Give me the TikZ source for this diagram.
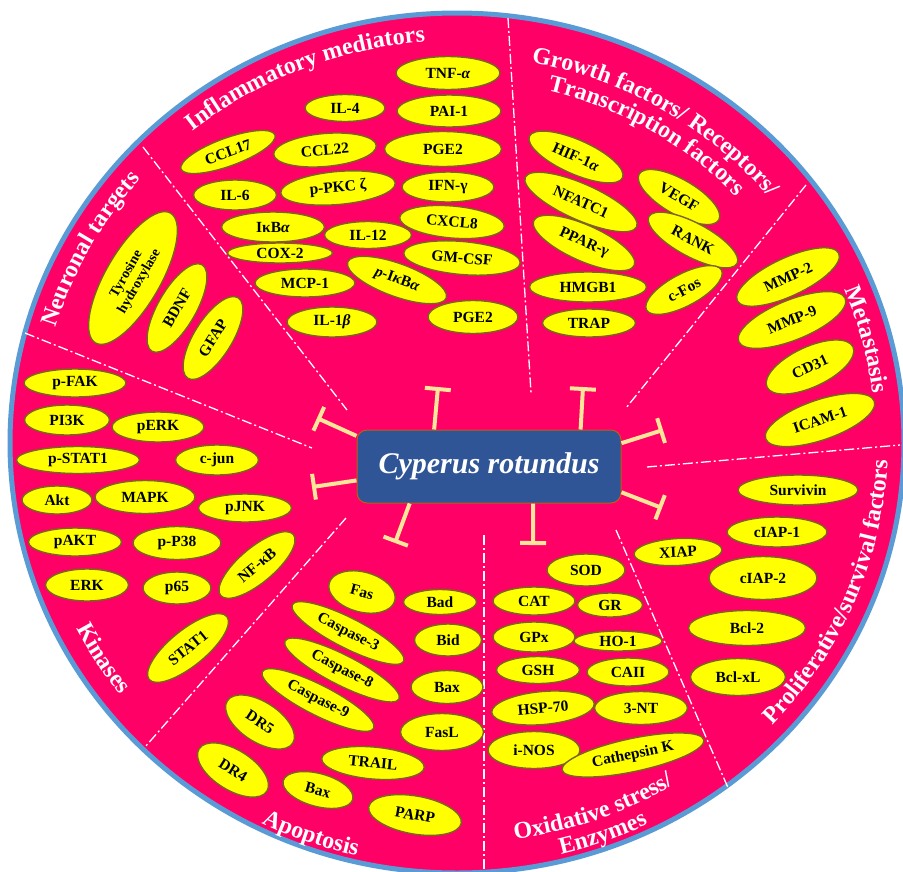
\documentclass[tikz,border=0pt]{standalone}
\usepackage{fontspec}
\setmainfont{Liberation Serif}
\usetikzlibrary{shapes.geometric, arrows.meta, decorations.text}
\definecolor{disc}{HTML}{FF0066}
\definecolor{rimblue}{HTML}{5B9BD5}
\definecolor{chip}{HTML}{FFFF00}
\definecolor{chipline}{HTML}{7A6420}
\definecolor{hub}{HTML}{2F5597}
\definecolor{hubline}{HTML}{C55A11}
\definecolor{stopper}{HTML}{FFE699}
\newcommand\ringfont{\fontsize{24}{24}\selectfont\bfseries}

\begin{document}
\begin{tikzpicture}[x=1pt, y=-1pt, font=\bfseries\fontsize{15.5}{16}\selectfont,
  tg/.style 2 args={ellipse, draw=chipline, line width=1.4pt, fill=chip, inner sep=0pt, minimum width=#1pt, minimum height=#2pt},
  hubbox/.style={rectangle, draw=hubline, line width=1pt, fill=hub, rounded corners=10pt, minimum width=264pt, minimum height=73pt, text=white, font=\bfseries\itshape\fontsize{30}{30}\selectfont},
  block/.style={draw=stopper, line width=4pt, -{Bar[width=26pt]}},
  split/.style={draw=white, line width=1.3pt, dash pattern=on 10pt off 3pt on 2pt off 3pt},
  ringtitle/.style={decorate, decoration={text along path, text align=center, text color=white, text={|\ringfont|#1}}}
]
  \useasboundingbox (0,0) rectangle (903,871);
  \fill[white] (0,0) rectangle (903,871);
  \draw[rimblue, line width=5pt, fill=disc] (457,443) ellipse [x radius=447pt, y radius=430pt];

  \draw[split] (143,147) -- (347,410);
  \draw[split] (25,333) -- (312,448);
  \draw[split] (508,18) -- (531,393);
  \draw[split] (806,185) -- (626,408);
  \draw[split] (647,467) -- (900,445);
  \draw[split] (616,530) -- (729,790);
  \draw[split] (484,535) -- (484,871);
  \draw[split] (346,518) -- (145,747);

  \path[ringtitle={Neuronal targets}] (457,443) ++(191.5:419pt and 402pt) arc[start angle=191.5, end angle=111.5, x radius=419pt, y radius=402pt];
  \path[ringtitle={Inflammatory mediators}] (457,443) ++(152:419pt and 402pt) arc[start angle=152, end angle=72, x radius=419pt, y radius=402pt];
  \path[ringtitle={Growth factors/ Receptors/}] (457,443) ++(104:404pt and 387pt) arc[start angle=104, end angle=14, x radius=404pt, y radius=387pt];
  \path[ringtitle={Transcription factors}] (457,443) ++(104:380pt and 363pt) arc[start angle=104, end angle=14, x radius=380pt, y radius=363pt];
  \path[ringtitle={Metastasis}] (457,443) ++(54.5:419pt and 402pt) arc[start angle=54.5, end angle=-25.5, x radius=419pt, y radius=402pt];
  \path[ringtitle={Kinases}] (457,443) ++(172:427pt and 410pt) arc[start angle=172, end angle=252, x radius=427pt, y radius=410pt];
  \path[ringtitle={Apoptosis}] (457,443) ++(210:441pt and 424pt) arc[start angle=210, end angle=290, x radius=441pt, y radius=424pt];
  \path[ringtitle={Oxidative stress/}] (457,443) ++(250:417pt and 400pt) arc[start angle=250, end angle=330, x radius=417pt, y radius=400pt];
  \path[ringtitle={Enzymes}] (457,443) ++(250:440pt and 423pt) arc[start angle=250, end angle=330, x radius=440pt, y radius=423pt];
  \path[ringtitle={Proliferative/survival factors}] (457,443) ++(297.5:431pt and 414pt) arc[start angle=297.5, end angle=377.5, x radius=431pt, y radius=414pt];

  \node[tg={150}{55}, rotate=60, align=center, font=\bfseries\fontsize{14}{15}\selectfont] (th) at (133,278) {Tyrosine\\hydroxylase};
  \node[tg={100}{38}, rotate=60] (bdnf) at (177,308) {BDNF};
  \node[tg={95}{38}, rotate=58] (gfap) at (213,338) {GFAP};

  \node[tg={104}{33}] (tnfa) at (448,73) {TNF-\textit{α}};
  \node[tg={80}{27}] (il4) at (345,108) {IL-4};
  \node[tg={104}{32}] (pai) at (449,111) {PAI-1};
  \node[tg={100}{28}, rotate=20] (ccl17) at (228,152) {CCL17};
  \node[tg={103}{33}, rotate=5] (ccl22) at (325,150) {CCL22};
  \node[tg={117}{35}] (pgea) at (443,149) {PGE2};
  \node[tg={83}{30}] (il6) at (235,195) {IL-6};
  \node[tg={115}{33}, rotate=5] (pkc) at (338,188) {p-PKC ζ};
  \node[tg={92}{30}] (ifn) at (448,187) {IFN-γ};
  \node[tg={103}{30}] (ikb) at (273,227) {IκB\textit{α}};
  \node[tg={87}{27}] (il12) at (368,235) {IL-12};
  \node[tg={105}{32}, rotate=-5] (cxcl) at (452,222) {CXCL8};
  \node[tg={105}{20}] (cox) at (280,253) {COX-2};
  \node[tg={117}{33}, rotate=-5] (gmcsf) at (462,258) {GM-CSF};
  \node[tg={100}{28}] (mcp) at (305,283) {MCP-1};
  \node[tg={105}{33}, rotate=-20] (pikb) at (397,280) {\textit{p}-I\textit{κ}B\textit{α}};
  \node[tg={90}{30}] (il1b) at (332,322) {IL-1\textit{β}};
  \node[tg={90}{33}] (pgeb) at (473,317) {PGE2};

  \node[tg={102}{34}, rotate=-24] (hif) at (576,157) {HIF-1\textit{α}};
  \node[tg={122}{36}, rotate=-24] (nfat) at (581,202) {NFATC1};
  \node[tg={92}{35}, rotate=-30] (vegf) at (679,197) {VEGF};
  \node[tg={110}{36}, rotate=-24] (ppar) at (584,243) {PPAR-γ};
  \node[tg={100}{34}, rotate=-28] (rank) at (693,240) {RANK};
  \node[tg={117}{30}] (hmgb) at (588,287) {HMGB1};
  \node[tg={85}{32}, rotate=28] (cfos) at (684,290) {c-Fos};
  \node[tg={93}{28}] (trap) at (589,323) {TRAP};

  \node[tg={112}{38}, rotate=25] (mmpb) at (788,277) {MMP-2};
  \node[tg={115}{40}, rotate=22] (mmpi) at (792,320) {MMP-9};
  \node[tg={95}{40}, rotate=25] (cd31) at (810,367) {CD31};
  \node[tg={115}{40}, rotate=19] (icam) at (820,420) {ICAM-1};

  \node[tg={120}{30}] (surv) at (798,490) {Survivin};
  \node[tg={100}{30}] (ciapa) at (777,532) {cIAP-1};
  \node[tg={88}{27}, rotate=3] (xiap) at (678,552) {XIAP};
  \node[tg={108}{43}] (ciapb) at (763,578) {cIAP-2};
  \node[tg={117}{35}] (bcl2) at (747,628) {Bcl-2};
  \node[tg={95}{37}] (bclxl) at (738,677) {Bcl-xL};

  \node[tg={78}{32}] (sod) at (586,570) {SOD};
  \node[tg={82}{28}] (cat) at (534,601) {CAT};
  \node[tg={65}{24}] (gr) at (610,605) {GR};
  \node[tg={82}{30}] (gpx) at (534,637) {GPx};
  \node[tg={88}{20}] (ho1) at (618,641) {HO-1};
  \node[tg={83}{27}] (gsh) at (538,670) {GSH};
  \node[tg={82}{28}] (caii) at (628,672) {CAII};
  \node[tg={103}{33}, rotate=5] (hsp) at (543,708) {HSP-70};
  \node[tg={93}{33}] (nt3) at (641,708) {3-NT};
  \node[tg={92}{37}] (inos) at (534,750) {i-NOS};
  \node[tg={145}{33}, rotate=12] (catk) at (633,755) {Cathepsin K};

  \node[tg={68}{40}, rotate=-15] (fas) at (362,592) {Fas};
  \node[tg={73}{25}] (bad) at (440,602) {Bad};
  \node[tg={125}{30}, rotate=-27] (casp3) at (348,633) {Caspase-3};
  \node[tg={67}{32}] (bid) at (448,640) {Bid};
  \node[tg={128}{30}, rotate=-27] (casp8) at (342,670) {Caspase-8};
  \node[tg={72}{33}] (baxa) at (447,687) {Bax};
  \node[tg={125}{30}, rotate=-27] (casp9) at (318,700) {Caspase-9};
  \node[tg={78}{40}, rotate=-33] (dr5) at (260,722) {DR5};
  \node[tg={83}{37}] (fasl) at (442,732) {FasL};
  \node[tg={103}{32}, rotate=-5] (trail) at (373,763) {TRAIL};
  \node[tg={80}{40}, rotate=-32] (dr4) at (233,770) {DR4};
  \node[tg={72}{33}, rotate=-15] (baxb) at (318,790) {Bax};
  \node[tg={94}{38}, rotate=-10] (parp) at (415,815) {PARP};

  \node[tg={102}{28}] (pfak) at (75,383) {p-FAK};
  \node[tg={85}{30}] (pi3k) at (67,420) {PI3K};
  \node[tg={92}{30}] (perk) at (158,427) {pERK};
  \node[tg={123}{27}] (pstat) at (78,460) {p-STAT1};
  \node[tg={83}{30}] (cjun) at (217,460) {c-jun};
  \node[tg={70}{28}] (akt) at (57,500) {Akt};
  \node[tg={100}{33}] (mapk) at (145,497) {MAPK};
  \node[tg={93}{28}] (pjnk) at (245,508) {pJNK};
  \node[tg={93}{28}] (pakt) at (75,542) {pAKT};
  \node[tg={88}{33}] (pp38) at (177,543) {p-P38};
  \node[tg={83}{32}] (erk) at (87,585) {ERK};
  \node[tg={68}{32}] (p65) at (177,588) {p65};
  \node[tg={95}{35}, rotate=40] (nfkb) at (257,565) {NF-κB};
  \node[tg={100}{36}, rotate=39] (stat) at (188,648) {STAT1};

  \node[hubbox] (cr) at (489,466.5) {Cyperus rotundus};

  \coordinate (s1) at (317,418);
  \coordinate (s2) at (438,387);
  \coordinate (s3) at (583,387);
  \coordinate (s4) at (663,430);
  \coordinate (s5) at (662,508);
  \coordinate (s6) at (533,545);
  \coordinate (s7) at (395,543);
  \coordinate (s8) at (312,487);
  \draw[block] (cr.167) -- (s1);
  \draw[block] (cr.146) -- (s2);
  \draw[block] (cr.22) -- (s3);
  \draw[block] (cr.10) -- (s4);
  \draw[block] (cr.349) -- (s5);
  \draw[block] (cr.320) -- (s6);
  \draw[block] (cr.205) -- (s7);
  \draw[block] (cr.186) -- (s8);
\end{tikzpicture}
\end{document}
